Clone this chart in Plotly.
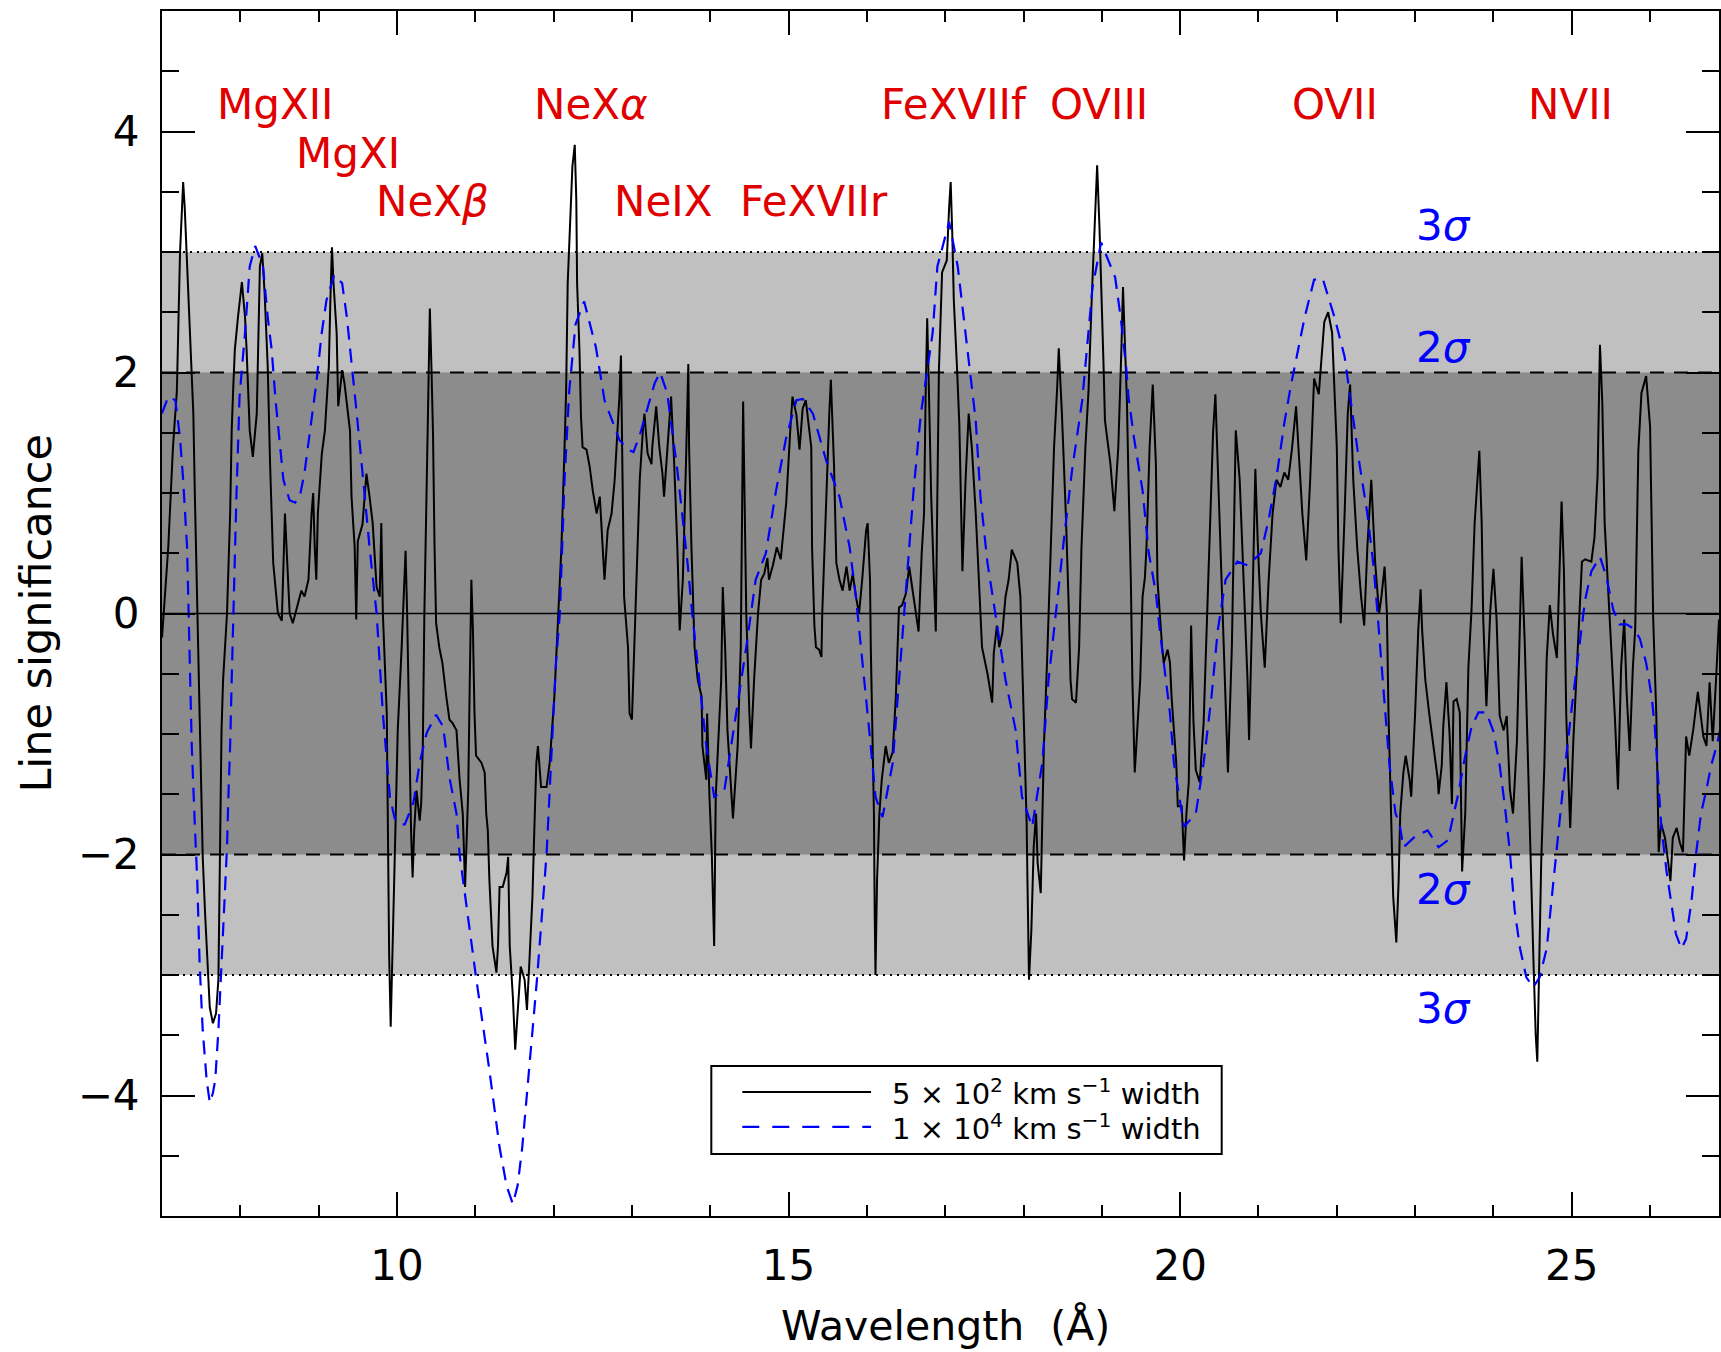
import plotly.graph_objects as go

# Line-significance spectrum for a 5e2 km/s line width (narrow search)
narrow_wl = [
    7.00, 7.08, 7.14, 7.19, 7.23, 7.25, 7.27, 7.29, 7.34, 7.38, 7.40, 7.42, 7.45, 7.46, 7.48, 7.51,
    7.52, 7.55, 7.59, 7.61, 7.65, 7.69, 7.72, 7.73, 7.74, 7.75, 7.76, 7.78, 7.83, 7.87, 7.89, 7.91,
    7.93, 7.97, 8.02, 8.06, 8.08, 8.12, 8.16, 8.21, 8.25, 8.28, 8.31, 8.35, 8.38, 8.42, 8.48, 8.53,
    8.57, 8.59, 8.63, 8.67, 8.72, 8.78, 8.82, 8.87, 8.91, 8.93, 8.95, 8.97, 8.99, 9.04, 9.08, 9.10,
    9.13, 9.15, 9.17, 9.19, 9.23, 9.25, 9.30, 9.33, 9.37, 9.40, 9.42, 9.46, 9.48, 9.50, 9.56, 9.61,
    9.65, 9.69, 9.74, 9.78, 9.80, 9.82, 9.87, 9.88, 9.89, 9.90, 9.92, 9.94, 9.97, 9.99, 10.01, 10.06,
    10.09, 10.11, 10.13, 10.15, 10.17, 10.18, 10.20, 10.22, 10.25, 10.29, 10.31, 10.33, 10.35, 10.38,
    10.40, 10.42, 10.44, 10.46, 10.48, 10.50, 10.54, 10.58, 10.63, 10.67, 10.71, 10.76, 10.80, 10.84,
    10.87, 10.89, 10.91, 10.93, 10.95, 10.97, 10.99, 11.01, 11.08, 11.12, 11.14, 11.16, 11.18, 11.22,
    11.27, 11.29, 11.31, 11.35, 11.40, 11.42, 11.44, 11.48, 11.51, 11.54, 11.58, 11.63, 11.66, 11.69,
    11.73, 11.76, 11.78, 11.80, 11.84, 11.91, 11.95, 12.01, 12.05, 12.10, 12.14, 12.16, 12.18, 12.21,
    12.24, 12.27, 12.29, 12.30, 12.33, 12.35, 12.37, 12.42, 12.46, 12.50, 12.55, 12.59, 12.63, 12.65,
    12.69, 12.74, 12.78, 12.82, 12.84, 12.86, 12.88, 12.90, 12.95, 12.97, 13.00, 13.03, 13.07, 13.10,
    13.14, 13.16, 13.20, 13.25, 13.26, 13.31, 13.35, 13.39, 13.41, 13.45, 13.50, 13.54, 13.58, 13.61,
    13.65, 13.69, 13.72, 13.73, 13.76, 13.80, 13.84, 13.89, 13.90, 13.95, 13.96, 13.99, 14.02, 14.05,
    14.07, 14.09, 14.14, 14.16, 14.19, 14.22, 14.26, 14.29, 14.35, 14.39, 14.42, 14.46, 14.50, 14.52,
    14.56, 14.61, 14.65, 14.69, 14.73, 14.75, 14.80, 14.85, 14.90, 14.97, 15.02, 15.05, 15.10, 15.14,
    15.18, 15.22, 15.29, 15.30, 15.33, 15.35, 15.39, 15.42, 15.43, 15.48, 15.52, 15.54, 15.58, 15.61,
    15.65, 15.69, 15.74, 15.78, 15.82, 15.86, 15.90, 15.94, 15.99, 16.01, 16.04, 16.05, 16.07, 16.09,
    16.10, 16.11, 16.13, 16.16, 16.19, 16.24, 16.28, 16.33, 16.37, 16.39, 16.41, 16.45, 16.50, 16.54,
    16.58, 16.62, 16.66, 16.70, 16.73, 16.75, 16.77, 16.79, 16.82, 16.86, 16.88, 16.90, 16.92, 16.96,
    17.02, 17.05, 17.07, 17.09, 17.11, 17.15, 17.18, 17.20, 17.22, 17.26, 17.30, 17.34, 17.39, 17.43,
    17.47, 17.54, 17.60, 17.62, 17.66, 17.69, 17.73, 17.77, 17.81, 17.85, 17.92, 17.96, 17.98, 18.00,
    18.03, 18.04, 18.05, 18.06, 18.07, 18.10, 18.13, 18.16, 18.18, 18.22, 18.24, 18.26, 18.30, 18.35,
    18.39, 18.43, 18.45, 18.49, 18.54, 18.58, 18.60, 18.62, 18.67, 18.71, 18.74, 18.79, 18.83, 18.87,
    18.92, 18.94, 18.97, 19.00, 19.02, 19.04, 19.06, 19.11, 19.16, 19.21, 19.25, 19.27, 19.29, 19.32,
    19.34, 19.37, 19.39, 19.42, 19.49, 19.52, 19.55, 19.57, 19.61, 19.65, 19.69, 19.71, 19.77, 19.79,
    19.84, 19.87, 19.89, 19.92, 19.95, 19.97, 20.02, 20.05, 20.08, 20.11, 20.14, 20.17, 20.20, 20.25,
    20.30, 20.36, 20.42, 20.45, 20.50, 20.56, 20.61, 20.66, 20.69, 20.71, 20.76, 20.81, 20.86, 20.88,
    20.90, 20.93, 20.96, 20.99, 21.03, 21.08, 21.13, 21.18, 21.23, 21.28, 21.33, 21.38, 21.43, 21.48,
    21.51, 21.56, 21.61, 21.66, 21.71, 21.77, 21.84, 21.89, 21.94, 21.97, 22.00, 22.02, 22.05, 22.10,
    22.14, 22.17, 22.21, 22.26, 22.31, 22.35, 22.39, 22.44, 22.49, 22.54, 22.57, 22.61, 22.64, 22.66,
    22.69, 22.70, 22.72, 22.76, 22.79, 22.81, 22.85, 22.88, 22.93, 22.95, 23.00, 23.04, 23.07, 23.09,
    23.13, 23.18, 23.23, 23.29, 23.30, 23.34, 23.36, 23.40, 23.44, 23.47, 23.49, 23.53, 23.57, 23.60,
    23.64, 23.68, 23.72, 23.76, 23.82, 23.85, 23.87, 23.91, 23.96, 24.00, 24.04, 24.08, 24.13, 24.17,
    24.21, 24.25, 24.30, 24.34, 24.36, 24.40, 24.44, 24.47, 24.51, 24.54, 24.56, 24.58, 24.61, 24.65,
    24.68, 24.72, 24.76, 24.81, 24.84, 24.87, 24.90, 24.93, 24.98, 25.02, 25.08, 25.13, 25.17, 25.25,
    25.29, 25.33, 25.36, 25.39, 25.42, 25.47, 25.51, 25.55, 25.59, 25.63, 25.67, 25.70, 25.74, 25.78,
    25.81, 25.85, 25.89, 25.95, 26.00, 26.04, 26.08, 26.11, 26.14, 26.19, 26.23, 26.26, 26.29, 26.34,
    26.38, 26.42, 26.46, 26.50, 26.55, 26.61, 26.68, 26.72, 26.76, 26.80, 26.85, 26.88,
]
narrow_sig = [
    -0.20, 0.55, 1.38, 1.85, 2.99, 3.37, 3.58, 3.37, 2.60, 2.05, 1.66, 0.97, 0.05, -0.28, -0.97, -1.66,
    -2.02, -2.49, -3.02, -3.27, -3.40, -3.32, -3.04, -2.55, -1.80, -1.52, -0.97, -0.55, 0.00, 0.83, 1.52, 1.88,
    2.19, 2.46, 2.75, 2.46, 2.19, 1.52, 1.30, 1.66, 2.88, 2.99, 2.66, 2.05, 1.24, 0.42, 0.00, -0.06,
    0.83, 0.55, 0.00, -0.08, 0.05, 0.19, 0.14, 0.28, 0.83, 1.00, 0.55, 0.28, 0.83, 1.32, 1.52, 1.72,
    2.05, 2.60, 3.04, 2.74, 2.33, 1.72, 2.02, 1.91, 1.66, 1.52, 0.97, 0.55, -0.05, 0.60, 0.74, 1.16,
    0.97, 0.75, 0.22, 0.14, 0.75, 0.00, -0.83, -1.66, -2.21, -2.82, -3.43, -2.76, -2.07, -1.52, -0.97, -0.28,
    0.28, 0.52, 0.00, -0.83, -1.52, -1.80, -2.19, -1.80, -1.47, -1.72, -1.57, -1.10, 0.00, 0.97,
    1.66, 2.53, 2.05, 1.50, 0.55, -0.08, -0.28, -0.41, -0.69, -0.88, -0.91, -0.97, -1.38, -1.66,
    -2.27, -1.94, -1.47, -0.55, 0.28, -0.14, -0.83, -1.18, -1.24, -1.32, -1.66, -1.80, -2.21, -2.76,
    -2.98, -2.76, -2.27, -2.27, -2.15, -2.02, -2.76, -3.18, -3.62, -3.32, -2.93, -3.04, -3.29, -2.90,
    -2.35, -1.66, -1.24, -1.10, -1.44, -1.44, -1.24, -0.69, -0.14, 0.55, 1.38, 1.85, 2.74, 3.29,
    3.71, 3.89, 3.43, 2.74, 2.19, 1.63, 1.38, 1.36, 1.22, 1.02, 0.83, 0.97, 0.55, 0.28,
    0.69, 0.83, 1.11, 1.52, 1.80, 2.14, 1.00, 0.14, -0.28, -0.83, -0.88, -0.28, 0.55, 1.11,
    1.52, 1.66, 1.33, 1.24, 1.38, 1.72, 1.38, 1.16, 0.97, 1.38, 1.80, 1.24, 0.55, -0.14,
    0.28, 1.24, 2.07, 1.38, 0.55, -0.28, -0.55, -0.69, -1.10, -1.38, -0.83, -1.52, -2.00, -2.76,
    -1.52, -1.24, -0.55, 0.22, -0.28, -0.97, -1.38, -1.70, -1.10, -0.28, 1.76, 0.00, -0.83, -1.12,
    -0.55, 0.00, 0.28, 0.33, 0.46, 0.28, 0.40, 0.55, 0.45, 0.92, 1.50, 1.80, 1.65, 1.36,
    1.70, 1.77, 1.38, 0.55, -0.10, -0.28, -0.30, -0.36, 0.00, 0.97, 1.66, 1.94, 1.24, 0.42,
    0.28, 0.19, 0.39, 0.19, 0.33, 0.14, 0.00, 0.28, 0.69, 0.75, 0.28, -0.28, -1.10, -1.66,
    -2.49, -3.00, -2.21, -1.66, -1.38, -1.10, -1.24, -1.15, -0.69, -0.28, 0.05, 0.07, 0.17, 0.39,
    0.22, 0.05, -0.15, 0.50, 0.83, 1.80, 2.45, 1.91, 1.00, 0.20, -0.15, 1.00, 2.02, 2.83,
    2.93, 3.37, 3.58, 3.16, 2.60, 2.05, 1.58, 0.97, 0.35, 1.11, 1.66, 1.38, 0.83, 0.28,
    -0.28, -0.50, -0.74, -0.33, -0.10, -0.28, -0.16, 0.14, 0.28, 0.53, 0.42, 0.14, -0.28, -0.83,
    -1.38, -1.74, -2.21, -2.76, -3.04, -2.63, -1.94, -1.66, -2.07, -2.32, -1.66, -1.10, -0.41, 0.69,
    1.38, 1.88, 2.20, 1.66, 0.83, 0.00, -0.55, -0.71, -0.74, -0.28, 0.55, 1.38, 1.85, 2.60,
    3.40, 3.72, 3.20, 2.60, 2.10, 1.60, 1.50, 1.24, 0.85, 1.38, 2.20, 2.71, 2.33, 1.77,
    1.11, 0.28, -0.55, -1.32, -0.55, 0.14, 0.30, 0.55, 1.38, 1.90, 1.24, 0.28, -0.28, -0.41,
    -0.30, -0.41, -0.69, -0.97, -1.24, -1.60, -1.60, -2.05, -1.66, -1.40, -0.10, -0.90, -1.30, -1.40,
    -0.90, 0.30, 1.50, 1.82, 0.83, -0.28, -1.32, -0.28, 0.83, 1.52, 1.11, 0.28, -0.55, -1.05,
    -0.55, 0.28, 1.20, 0.60, 0.00, -0.45, 0.28, 0.83, 1.11, 1.05, 1.17, 1.11, 1.38, 1.72,
    1.38, 0.83, 0.44, 1.11, 1.95, 1.82, 2.42, 2.50, 2.33, 1.77, 1.38, 0.55, -0.08, 0.83,
    1.66, 1.90, 1.11, 0.55, 0.14, -0.10, 0.55, 1.11, 0.42, 0.00, 0.14, 0.39, 0.00, -0.83,
    -1.66, -1.80, -2.35, -2.73, -2.21, -1.66, -1.32, -1.18, -1.38, -1.52, -0.83, -0.14, 0.20, -0.14,
    -0.55, -0.83, -1.10, -1.38, -1.50, -1.26, -0.93, -0.57, -1.00, -1.58, -0.73, -0.71, -0.82, -2.14,
    -1.66, -0.45, 0.03, 0.75, 1.35, 0.75, -0.05, -0.77, 0.03, 0.37, -0.05, -0.85, -0.97, -0.85,
    -1.46, -1.66, -1.06, -0.05, 0.47, -0.25, -1.26, -1.86, -2.86, -3.50, -3.72, -3.06, -2.06, -1.26,
    -0.37, 0.07, -0.17, -0.37, 0.35, 0.93, 0.35, -0.85, -1.78, -1.06, -0.25, 0.43, 0.45, 0.43,
    0.63, 1.15, 2.23, 1.75, 0.75, 0.14, -0.45, -0.85, -1.46, -0.45, -0.05, -0.65, -1.14, -0.45,
    -0.13, 1.35, 1.83, 1.97, 1.55, -0.05, -0.85, -1.98, -1.74, -1.86, -2.06, -2.22, -1.86, -1.78,
    -1.90, -1.98, -1.02, -1.18, -0.97, -0.65, -1.02, -1.10, -0.57, -1.06, -0.45, -0.05,
]

# Line-significance spectrum for a 1e4 km/s line width (broad search)
broad_wl = [
    7.00, 7.08, 7.17, 7.23, 7.27, 7.32, 7.34, 7.36, 7.38, 7.42, 7.45, 7.48, 7.52, 7.57, 7.61, 7.65,
    7.68, 7.72, 7.76, 7.80, 7.83, 7.85, 7.87, 7.89, 7.91, 7.93, 7.95, 7.97, 7.99, 8.06, 8.12, 8.19,
    8.29, 8.35, 8.40, 8.45, 8.50, 8.55, 8.59, 8.63, 8.70, 8.76, 8.82, 8.89, 8.93, 8.97, 9.04, 9.10,
    9.20, 9.30, 9.36, 9.40, 9.46, 9.48, 9.56, 9.65, 9.74, 9.82, 9.91, 9.97, 10.03, 10.10, 10.21,
    10.29, 10.38, 10.50, 10.59, 10.67, 10.76, 10.80, 11.01, 11.18, 11.31, 11.40, 11.48, 11.54,
    11.60, 11.69, 11.79, 11.91, 11.95, 12.03, 12.08, 12.14, 12.20, 12.28, 12.39, 12.54, 12.65,
    12.71, 12.84, 12.95, 13.02, 13.10, 13.18, 13.29, 13.36, 13.45, 13.58, 13.71, 13.77, 13.86,
    13.95, 14.05, 14.18, 14.33, 14.46, 14.58, 14.71, 14.84, 14.97, 15.10, 15.18, 15.31, 15.48,
    15.65, 15.78, 15.86, 15.94, 16.03, 16.11, 16.20, 16.33, 16.41, 16.50, 16.60, 16.69, 16.84,
    16.90, 17.05, 17.16, 17.26, 17.33, 17.39, 17.45, 17.54, 17.64, 17.77, 17.90, 17.98, 18.11,
    18.24, 18.32, 18.41, 18.52, 18.62, 18.75, 18.88, 18.99, 19.17, 19.24, 19.31, 19.34, 19.41,
    19.52, 19.60, 19.69, 19.74, 19.79, 19.87, 19.92, 20.05, 20.20, 20.30, 20.40, 20.48, 20.58,
    20.73, 20.86, 21.03, 21.13, 21.23, 21.33, 21.41, 21.59, 21.71, 21.82, 21.97, 22.10, 22.19,
    22.29, 22.39, 22.47, 22.52, 22.57, 22.62, 22.67, 22.75, 22.80, 22.85, 23.00, 23.16, 23.30,
    23.42, 23.55, 23.64, 23.72, 23.81, 23.91, 24.00, 24.08, 24.15, 24.21, 24.27, 24.34, 24.42,
    24.51, 24.59, 24.68, 24.76, 24.85, 24.93, 25.00, 25.08, 25.17, 25.25, 25.36, 25.44, 25.53,
    25.61, 25.70, 25.80, 25.87, 25.95, 26.02, 26.06, 26.10, 26.14, 26.21, 26.27, 26.33, 26.40,
    26.46, 26.53, 26.59, 26.65, 26.72, 26.78, 26.85, 26.90,
]
broad_sig = [
    1.66, 1.80, 1.77, 1.46, 1.11, 0.55, 0.00, -0.55, -1.10, -1.77, -2.21, -2.90, -3.46, -3.87, -4.06, -3.98,
    -3.87, -3.46, -2.90, -2.35, -1.94, -1.47, -1.10, -0.55, 0.00, 0.42, 0.97, 1.38, 1.80, 2.33, 2.88, 3.05,
    2.88, 2.46, 2.19, 1.77, 1.44, 1.11, 1.02, 0.94, 0.92, 0.97, 1.17, 1.52, 1.74, 1.91, 2.33, 2.60,
    2.81, 2.74, 2.46, 2.19, 1.77, 1.70, 1.17, 0.55, 0.00, -0.83, -1.52, -1.70, -1.75, -1.75, -1.57,
    -1.24, -0.99, -0.84, -0.94, -1.36, -1.66, -2.00, -3.02, -3.79, -4.43, -4.75, -4.90, -4.75,
    -4.43, -3.79, -3.02, -2.00, -1.47, -0.41, 0.00, 1.11, 1.85, 2.40, 2.59, 2.21, 1.77,
    1.66, 1.44, 1.36, 1.34, 1.48, 1.66, 1.91, 2.00, 1.83, 1.19, 0.42, 0.00, -0.55,
    -1.10, -1.52, -1.47, -0.83, -0.28, 0.28, 0.50, 1.02, 1.46, 1.77, 1.78, 1.66, 1.27,
    0.97, 0.55, 0.14, -0.36, -0.97, -1.52, -1.69, -1.24, -0.55, 0.22, 1.05, 1.66, 2.33,
    2.88, 3.25, 2.88, 2.33, 1.91, 1.60, 0.97, 0.42, 0.00, -0.55, -0.97, -1.52, -1.77,
    -1.24, -0.55, 0.00, 0.64, 1.19, 1.77, 2.70, 3.08, 2.79, 2.46, 2.05, 1.80, 1.46,
    1.02, 0.50, 0.17, -0.14, -0.41, -0.83, -1.24, -1.77, -1.66, -1.24, -0.69, -0.14, 0.28,
    0.43, 0.40, 0.50, 0.78, 1.13, 1.58, 1.88, 2.46, 2.77, 2.78, 2.46, 2.13, 1.69,
    1.24, 0.83, 0.39, 0.00, -0.41, -0.83, -1.24, -1.66, -1.74, -1.94, -1.85, -1.80, -1.94,
    -1.88, -1.50, -1.18, -0.94, -0.82, -0.82, -0.98, -1.26, -1.62, -1.98, -2.46, -2.78, -3.02,
    -3.10, -3.02, -2.78, -2.26, -1.66, -1.18, -0.78, -0.37, 0.11, 0.35, 0.47, 0.31, 0.03,
    -0.09, -0.09, -0.13, -0.21, -0.41, -0.69, -0.94, -1.34, -1.74, -2.14, -2.42, -2.66, -2.78,
    -2.70, -2.38, -1.98, -1.66, -1.46, -1.26, -1.10, -0.95,
]

# Ion identifications marked above the spectrum
ion_labels = ["MgXII", "MgXI", "NeX<i>β</i>", "NeX<i>α</i>", "NeIX",
              "FeXVIIr", "FeXVIIf", "OVIII", "OVII", "NVII"]
ion_wl = [8.445, 9.376, 10.46, 12.48, 13.40, 15.33, 17.11, 18.96, 21.98, 24.98]
ion_sig = [4.22, 3.82, 3.42, 4.22, 3.42, 3.42, 4.22, 4.22, 4.22, 4.22]

# Confidence levels
sigma_text = ["3<i>σ</i>", "2<i>σ</i>", "2<i>σ</i>", "3<i>σ</i>"]
sigma_label_sig = [3.22, 2.21, -2.29, -3.28]
sigma_label_wl = 23.36

legend_text = [
    "5 × 10<sup>2</sup> km s<sup>−1</sup> width",
    "1 × 10<sup>4</sup> km s<sup>−1</sup> width",
]

FONT = "DejaVu Sans, Liberation Sans, Arial"
RED = "#e00000"
BLUE = "#0000ff"

fig = go.Figure()

fig.add_trace(go.Scatter(
    x=narrow_wl, y=narrow_sig, mode="lines",
    line=dict(color="black", width=2), showlegend=False,
))
fig.add_trace(go.Scatter(
    x=broad_wl, y=broad_sig, mode="lines",
    line=dict(color=BLUE, width=2.2, dash="14px,9px"), showlegend=False,
))

shapes = [
    # significance bands
    dict(type="rect", xref="paper", yref="y", x0=0, x1=1, y0=-3, y1=3,
         fillcolor="#c0c0c0", line=dict(width=0), layer="below"),
    dict(type="rect", xref="paper", yref="y", x0=0, x1=1, y0=-2, y1=2,
         fillcolor="#8c8c8c", line=dict(width=0), layer="below"),
    # reference levels
    dict(type="line", xref="paper", yref="y", x0=0, x1=1, y0=0, y1=0,
         line=dict(color="black", width=1.5), layer="below"),
]
for lvl in (2, -2):
    shapes.append(dict(type="line", xref="paper", yref="y", x0=0, x1=1, y0=lvl, y1=lvl,
                       line=dict(color="black", width=2, dash="14px,10px"), layer="below"))
for lvl in (3, -3):
    shapes.append(dict(type="line", xref="paper", yref="y", x0=0, x1=1, y0=lvl, y1=lvl,
                       line=dict(color="black", width=2, dash="2px,5px"), layer="below"))

# legend box with line samples
shapes.append(dict(type="rect", xref="paper", yref="paper", x0=0.3528, x1=0.6806,
                   y0=0.0515, y1=0.1245, line=dict(color="black", width=2),
                   fillcolor="white"))
shapes.append(dict(type="line", xref="paper", yref="paper", x0=0.3727, x1=0.4554,
                   y0=0.1029, y1=0.1029, line=dict(color="black", width=2)))
shapes.append(dict(type="line", xref="paper", yref="paper", x0=0.3727, x1=0.4554,
                   y0=0.0739, y1=0.0739, line=dict(color=BLUE, width=2.2, dash="17px,13px")))

annotations = []
for txt, xw, ys in zip(ion_labels, ion_wl, ion_sig):
    annotations.append(dict(x=xw, y=ys, xref="x", yref="y", text=txt, showarrow=False,
                            xanchor="center", yanchor="middle",
                            font=dict(family=FONT, size=42, color=RED)))
for txt, ys in zip(sigma_text, sigma_label_sig):
    annotations.append(dict(x=sigma_label_wl, y=ys, xref="x", yref="y", text=txt,
                            showarrow=False, xanchor="center", yanchor="middle",
                            font=dict(family=FONT, size=42, color=BLUE)))
for txt, ly in zip(legend_text, (0.1029, 0.0739)):
    annotations.append(dict(x=0.4676, y=ly, xref="paper", yref="paper", text=txt,
                            showarrow=False, xanchor="left", yanchor="middle",
                            font=dict(family=FONT, size=29, color="black")))
# axis titles
annotations.append(dict(x=17.0, y=-0.0913, xref="x", yref="paper", text="Wavelength  (Å)",
                        showarrow=False, xanchor="center", yanchor="middle",
                        font=dict(family=FONT, size=41, color="black")))
annotations.append(dict(x=-0.0815, y=0, xref="paper", yref="y", text="Line significance",
                        showarrow=False, xanchor="center", yanchor="middle", textangle=-90,
                        font=dict(family=FONT, size=43, color="black")))

fig.update_layout(
    width=1721, height=1352,
    margin=dict(l=162, r=0, t=11, b=136),
    paper_bgcolor="white", plot_bgcolor="white",
    shapes=shapes, annotations=annotations,
    showlegend=False,
    xaxis=dict(
        range=[7, 26.88], tickmode="linear", tick0=0, dtick=5,
        ticks="inside", ticklen=24, tickwidth=2, tickcolor="black",
        showline=True, linecolor="black", linewidth=2, mirror="ticks",
        showgrid=False, zeroline=False,
        minor=dict(dtick=1, tick0=0, ticks="inside", ticklen=11, tickwidth=2,
                   tickcolor="black", showgrid=False),
        tickfont=dict(family=FONT, size=42, color="black"),
        ticklabelstandoff=12,
    ),
    yaxis=dict(
        range=[-5, 5], tickmode="linear", tick0=0, dtick=2,
        ticks="inside", ticklen=33, tickwidth=2, tickcolor="black",
        showline=True, linecolor="black", linewidth=2, mirror="ticks",
        showgrid=False, zeroline=False,
        minor=dict(dtick=0.5, tick0=0, ticks="inside", ticklen=17, tickwidth=2,
                   tickcolor="black", showgrid=False),
        tickfont=dict(family=FONT, size=42, color="black"),
        ticklabelstandoff=12,
    ),
)

fig.write_html("out.html")
